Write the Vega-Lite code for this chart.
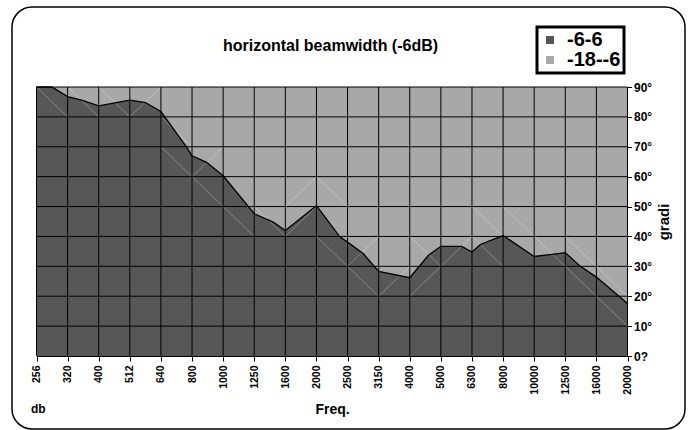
{
  "$schema": "https://vega.github.io/schema/vega-lite/v6.json",
  "width": 673,
  "height": 422,
  "autosize": {"type": "none"},
  "padding": {"left": 12, "top": 7, "right": 7, "bottom": 1},
  "background": "white",
  "config": {
    "view": {"stroke": "black", "strokeWidth": 1.5, "cornerRadius": 20, "fill": "white"},
    "font": "Liberation Sans",
    "legend": {
      "orient": "none", "legendX": 525, "legendY": 20, "title": null,
      "strokeColor": "black", "strokeWidth": 3, "fillColor": "white", "padding": 3,
      "labelFontSize": 20, "labelFontWeight": "bold", "labelColor": "black", "labelFont": "Liberation Sans",
      "symbolType": "square", "symbolSize": 64, "symbolStrokeWidth": 0, "rowPadding": 0, "labelOffset": 7
    }
  },
  "title": {
    "text": "horizontal beamwidth (-6dB)", "fontSize": 16, "fontWeight": "bold", "color": "black",
    "anchor": "middle", "frame": "group", "offset": -47, "dx": -18
  },
  "datasets": {
    "band": [
      {"pos": 0, "deg": 90, "series": "-18--6"},
      {"pos": 19, "deg": 90, "series": "-18--6"}
    ],
    "edge": [
      {"pos": 0, "deg": 90, "series": "-6-6"},
      {"pos": 0.49, "deg": 90, "series": "-6-6"},
      {"pos": 1, "deg": 86.8, "series": "-6-6"},
      {"pos": 1.45, "deg": 85.6, "series": "-6-6"},
      {"pos": 2, "deg": 83.7, "series": "-6-6"},
      {"pos": 3, "deg": 85.6, "series": "-6-6"},
      {"pos": 3.5, "deg": 84.8, "series": "-6-6"},
      {"pos": 4, "deg": 81.8, "series": "-6-6"},
      {"pos": 4.83, "deg": 69.8, "series": "-6-6"},
      {"pos": 5, "deg": 67, "series": "-6-6"},
      {"pos": 5.47, "deg": 64.8, "series": "-6-6"},
      {"pos": 6, "deg": 60.3, "series": "-6-6"},
      {"pos": 7, "deg": 47.6, "series": "-6-6"},
      {"pos": 7.61, "deg": 44.8, "series": "-6-6"},
      {"pos": 8, "deg": 42, "series": "-6-6"},
      {"pos": 9, "deg": 50.3, "series": "-6-6"},
      {"pos": 9.76, "deg": 39.8, "series": "-6-6"},
      {"pos": 10, "deg": 38.1, "series": "-6-6"},
      {"pos": 10.51, "deg": 34.2, "series": "-6-6"},
      {"pos": 11, "deg": 28.3, "series": "-6-6"},
      {"pos": 12, "deg": 26.2, "series": "-6-6"},
      {"pos": 12.6, "deg": 33.7, "series": "-6-6"},
      {"pos": 13, "deg": 36.7, "series": "-6-6"},
      {"pos": 13.67, "deg": 36.7, "series": "-6-6"},
      {"pos": 14, "deg": 34.8, "series": "-6-6"},
      {"pos": 14.27, "deg": 37.3, "series": "-6-6"},
      {"pos": 15, "deg": 40.3, "series": "-6-6"},
      {"pos": 16, "deg": 33.3, "series": "-6-6"},
      {"pos": 16.57, "deg": 34, "series": "-6-6"},
      {"pos": 17, "deg": 34.6, "series": "-6-6"},
      {"pos": 17.45, "deg": 30.3, "series": "-6-6"},
      {"pos": 18, "deg": 26.4, "series": "-6-6"},
      {"pos": 19, "deg": 17.6, "series": "-6-6"}
    ],
    "seams": [
      {"pos": 0, "deg": 90, "pos2": 1, "deg2": 80},
      {"pos": 1, "deg": 90, "pos2": 2, "deg2": 80},
      {"pos": 2, "deg": 90, "pos2": 3, "deg2": 80},
      {"pos": 3, "deg": 80, "pos2": 4, "deg2": 90},
      {"pos": 4, "deg": 80, "pos2": 5, "deg2": 70},
      {"pos": 4, "deg": 70, "pos2": 5, "deg2": 60},
      {"pos": 5, "deg": 60, "pos2": 6, "deg2": 70},
      {"pos": 5, "deg": 60, "pos2": 6, "deg2": 50},
      {"pos": 6, "deg": 50, "pos2": 7, "deg2": 40},
      {"pos": 7, "deg": 50, "pos2": 8, "deg2": 40},
      {"pos": 8, "deg": 40, "pos2": 9, "deg2": 50},
      {"pos": 8, "deg": 50, "pos2": 9, "deg2": 60},
      {"pos": 9, "deg": 60, "pos2": 10, "deg2": 50},
      {"pos": 9, "deg": 40, "pos2": 10, "deg2": 30},
      {"pos": 10, "deg": 30, "pos2": 11, "deg2": 40},
      {"pos": 10, "deg": 30, "pos2": 11, "deg2": 20},
      {"pos": 11, "deg": 20, "pos2": 12, "deg2": 30},
      {"pos": 12, "deg": 40, "pos2": 13, "deg2": 30},
      {"pos": 12, "deg": 20, "pos2": 13, "deg2": 30},
      {"pos": 13, "deg": 30, "pos2": 14, "deg2": 40},
      {"pos": 14, "deg": 50, "pos2": 15, "deg2": 40},
      {"pos": 14, "deg": 40, "pos2": 15, "deg2": 30},
      {"pos": 15, "deg": 50, "pos2": 16, "deg2": 40},
      {"pos": 16, "deg": 40, "pos2": 17, "deg2": 30},
      {"pos": 17, "deg": 40, "pos2": 18, "deg2": 30},
      {"pos": 18, "deg": 30, "pos2": 19, "deg2": 20},
      {"pos": 17, "deg": 30, "pos2": 18, "deg2": 20},
      {"pos": 18, "deg": 20, "pos2": 19, "deg2": 10}
    ],
    "vgrid": [
      {"pos": 0, "deg": 0, "deg2": 90}, {"pos": 1, "deg": 0, "deg2": 90}, {"pos": 2, "deg": 0, "deg2": 90},
      {"pos": 3, "deg": 0, "deg2": 90}, {"pos": 4, "deg": 0, "deg2": 90}, {"pos": 5, "deg": 0, "deg2": 90},
      {"pos": 6, "deg": 0, "deg2": 90}, {"pos": 7, "deg": 0, "deg2": 90}, {"pos": 8, "deg": 0, "deg2": 90},
      {"pos": 9, "deg": 0, "deg2": 90}, {"pos": 10, "deg": 0, "deg2": 90}, {"pos": 11, "deg": 0, "deg2": 90},
      {"pos": 12, "deg": 0, "deg2": 90}, {"pos": 13, "deg": 0, "deg2": 90}, {"pos": 14, "deg": 0, "deg2": 90},
      {"pos": 15, "deg": 0, "deg2": 90}, {"pos": 16, "deg": 0, "deg2": 90}, {"pos": 17, "deg": 0, "deg2": 90},
      {"pos": 18, "deg": 0, "deg2": 90}, {"pos": 19, "deg": 0, "deg2": 90}
    ],
    "hgrid": [
      {"deg": 10, "pos": 0, "pos2": 19}, {"deg": 20, "pos": 0, "pos2": 19}, {"deg": 30, "pos": 0, "pos2": 19},
      {"deg": 40, "pos": 0, "pos2": 19}, {"deg": 50, "pos": 0, "pos2": 19}, {"deg": 60, "pos": 0, "pos2": 19},
      {"deg": 70, "pos": 0, "pos2": 19}, {"deg": 80, "pos": 0, "pos2": 19}, {"deg": 90, "pos": 0, "pos2": 19}
    ],
    "note": [
      {"pos": 0.06, "deg": -17.7, "label": "db"}
    ]
  },
  "encoding": {
    "x": {
      "field": "pos", "type": "quantitative",
      "scale": {"domain": [0, 19], "range": [24.5, 615.5], "nice": false, "zero": false},
      "axis": {
        "orient": "bottom", "offset": -73, "values": [0,1,2,3,4,5,6,7,8,9,10,11,12,13,14,15,16,17,18,19],
        "labelExpr": "['256','320','400','512','640','800','1000','1250','1600','2000','2500','3150','4000','5000','6300','8000','10000','12500','16000','20000'][datum.value]",
        "labelAngle": -90, "labelFontSize": 10.5, "labelFontWeight": "bold", "labelColor": "black",
        "labelFont": "Liberation Sans", "labelPadding": 4, "labelOverlap": false, "labelBound": false, "labelFlush": false,
        "tickColor": "black", "tickSize": 5, "tickWidth": 1, "domainColor": "black", "domainWidth": 1, "grid": false,
        "title": "Freq.", "titleFontSize": 14, "titleFontWeight": "bold", "titleColor": "black",
        "titleFont": "Liberation Sans", "titlePadding": 8
      }
    },
    "y": {
      "field": "deg", "type": "quantitative", "stack": null,
      "scale": {"domain": [0, 90], "range": [349, 80], "nice": false},
      "axis": {
        "orient": "right", "offset": -57.5, "values": [0,10,20,30,40,50,60,70,80,90],
        "labelExpr": "datum.value == 0 ? '0?' : datum.value + '°'",
        "labelFontSize": 12, "labelFontWeight": "bold", "labelColor": "black", "labelFont": "Liberation Sans",
        "labelPadding": 2, "labelOverlap": false, "labelBound": false, "labelFlush": false,
        "tickColor": "black", "tickSize": 4, "domain": false, "grid": false,
        "title": "gradi", "titleAngle": -90, "titleFontSize": 15, "titleFontWeight": "bold", "titleColor": "black",
        "titleFont": "Liberation Sans", "titlePadding": 20
      }
    }
  },
  "layer": [
    {
      "data": {"name": "band"},
      "mark": {"type": "area", "opacity": 1},
      "encoding": {
        "color": {
          "field": "series", "type": "nominal",
          "scale": {"domain": ["-6-6", "-18--6"], "range": ["#575757", "#a8a8a8"]}
        }
      }
    },
    {
      "data": {"name": "edge"},
      "mark": {"type": "area", "opacity": 1},
      "encoding": {
        "color": {"field": "series", "type": "nominal"}
      }
    },
    {
      "data": {"name": "seams"},
      "mark": {"type": "rule", "color": "white", "strokeWidth": 0.8, "opacity": 0.35},
      "encoding": {
        "x2": {"field": "pos2"},
        "y2": {"field": "deg2"}
      }
    },
    {
      "data": {"name": "vgrid"},
      "mark": {"type": "rule", "color": "black", "strokeWidth": 1},
      "encoding": {
        "y2": {"field": "deg2"}
      }
    },
    {
      "data": {"name": "hgrid"},
      "mark": {"type": "rule", "color": "black", "strokeWidth": 1},
      "encoding": {
        "x2": {"field": "pos2"}
      }
    },
    {
      "data": {"name": "edge"},
      "mark": {"type": "line", "color": "black", "strokeWidth": 1.3},
      "encoding": {}
    },
    {
      "data": {"name": "note"},
      "mark": {"type": "text", "fontSize": 12, "fontWeight": "bold", "color": "black", "align": "center", "baseline": "middle", "font": "Liberation Sans"},
      "encoding": {
        "text": {"field": "label"}
      }
    }
  ]
}
